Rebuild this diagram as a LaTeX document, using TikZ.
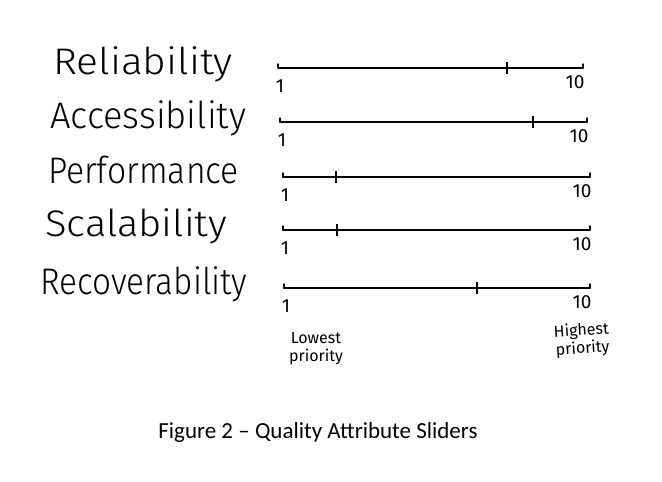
\documentclass[tikz,border=0pt]{standalone}
\usepackage{fontspec}
\setmainfont{Carlito}
\newfontfamily\handfont{Fira Sans Light}
\newfontfamily\penfont{Fira Sans}
\usetikzlibrary{positioning}
\tikzset{
  every picture/.style={x=1pt, y=-1pt},
  attr/.style={font=\handfont\fontsize{37}{37}\selectfont, anchor=base west, inner sep=0pt},
  num/.style={font=\penfont\fontsize{19}{19}\selectfont, inner sep=0pt},
  slider/.style={line width=1.8pt, line cap=round},
  knob/.style={line width=2pt},
  endtick/.style={line width=1.5pt, line cap=round},
  note/.style={font=\penfont\fontsize{16}{18}\selectfont, align=center, inner sep=0pt},
  caption/.style={font=\fontsize{23}{24}\selectfont, inner sep=0pt},
}
\begin{document}
\begin{tikzpicture}
  \useasboundingbox (0,0) rectangle (662,482);
  % one slider per quality attribute
  \foreach \i/\lab/\lx/\sx/\y/\xa/\xb/\m in {
      1/Reliability/53/1.1/68/278/583/507,
      2/Accessibility/50/0.98/122/280/587/533,
      3/Performance/48/0.91/177/283/590/336,
      4/Scalability/45/1.08/230/283/590/337,
      5/Recoverability/40/0.9/288/284/590/477}{
    \coordinate (s\i-a) at (\xa,\y);
    \coordinate (s\i-b) at (\xb,\y);
    \coordinate (s\i-m) at (\m,\y);
    \node[attr, xscale=\sx] (l\i) at (\lx,\y+6) {\lab};
    \draw[slider] (s\i-a) -- (s\i-b);
    \draw[endtick] (s\i-a) -- ++(0,-4);
    \draw[endtick] (s\i-b) -- ++(0,-4);
    \draw[knob] ([yshift=6pt]s\i-m) -- ([yshift=-6pt]s\i-m);
    \node[num] (one\i) at (\xa+2,\y+18) {1};
    \node[num] (ten\i) at (\xb-8,\y+14) {10};
  }
  \node[note] (low) at (316,349) {Lowest\\priority};
  \node[note, rotate=4] (high) at (582,340) {Highest\\priority};
  \node[caption] (cap) at (318,432) {Figure 2 – Quality Attribute Sliders};
\end{tikzpicture}
\end{document}
